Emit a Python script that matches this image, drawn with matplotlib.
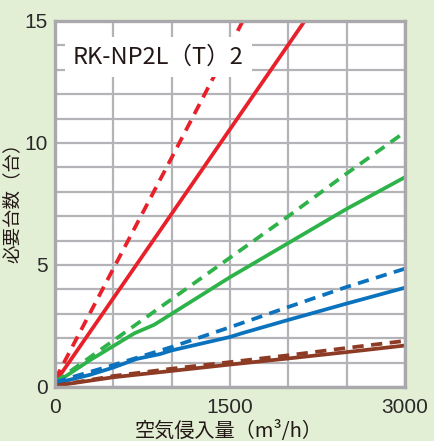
import matplotlib
matplotlib.use('Agg')
import matplotlib.pyplot as plt

# data
x_red = [0, 1000, 2140]
red_solid = [0.18, 7.1, 15.0]
x_red_d = [0, 1000, 1610]
red_dash = [0.3, 9.4, 15.0]

x_green = [0, 300, 680, 850, 1000, 1500, 2000, 2500, 3000]
green_solid = [0.15, 1.1, 2.2, 2.55, 3.0, 4.5, 5.9, 7.3, 8.6]
x_common = [0, 500, 1000, 1500, 2000, 2500, 3000]
green_dash = [0.2, 1.9, 3.6, 5.3, 7.0, 8.75, 10.45]

x_blue = [0, 300, 500, 700, 900, 1000, 1500, 1600, 2000, 2500, 3000]
blue_solid = [0.15, 0.5, 0.8, 1.15, 1.35, 1.5, 2.05, 2.2, 2.75, 3.42, 4.07]
blue_dash = [0.2, 0.9, 1.64, 2.45, 3.28, 4.1, 4.85]

brown_solid = [0.05, 0.4, 0.66, 0.92, 1.17, 1.43, 1.7]
brown_dash = [0.05, 0.45, 0.75, 1.02, 1.3, 1.6, 1.89]

x_ticks = [0, 500, 1000, 1500, 2000, 2500, 3000]
x_ticklabels = ['0', '', '', '1500', '', '', '3000']
y_ticks = list(range(16))
y_ticklabels = [str(v) if v % 5 == 0 else '' for v in y_ticks]

model_name = 'RK-NP2L（T）2'
x_label = '空気侵入量（m³/h）'
y_label = '必要台数（台）'

bg = '#e3efd5'
RED, GREEN, BLUE, BROWN = '#e8202a', '#2db34a', '#0b72bd', '#8e3b26'
cjk = ['Noto Sans CJK JP', 'DejaVu Sans']

fig = plt.figure(figsize=(4.35, 4.41), dpi=100, facecolor=bg)
ax = fig.add_axes([55 / 435, 1 - 387 / 441, 350 / 435, 366 / 441])
ax.set_facecolor('white')

lw = 2.7
ax.plot(x_red, red_solid, color=RED, lw=lw)
ax.plot(x_red_d, red_dash, color=RED, lw=lw, dashes=(3, 2))
ax.plot(x_green, green_solid, color=GREEN, lw=lw)
ax.plot(x_common, green_dash, color=GREEN, lw=lw, dashes=(3, 2))
ax.plot(x_blue, blue_solid, color=BLUE, lw=lw)
ax.plot(x_common, blue_dash, color=BLUE, lw=lw, dashes=(3, 2))
ax.plot(x_common, brown_dash, color=BROWN, lw=lw, dashes=(3, 2))
ax.plot(x_common, brown_solid, color=BROWN, lw=lw)

ax.set_xlim(0, 3000)
ax.set_ylim(0, 15)
ax.set_xticks(x_ticks)
ax.set_xticklabels(x_ticklabels)
ax.set_yticks(y_ticks)
ax.set_yticklabels(y_ticklabels)
ax.tick_params(length=0, labelsize=15, labelcolor='#2a2a2a')
ax.tick_params(axis='x', pad=8)
ax.tick_params(axis='y', pad=5)
for lab in ax.get_xticklabels() + ax.get_yticklabels():
    lab.set_fontfamily('Liberation Sans')

ax.grid(True, color='#b4b4b8', lw=1.6)
ax.set_axisbelow(True)
for s in ax.spines.values():
    s.set_color('#a9a9ad')
    s.set_linewidth(2.4)

ax.text(0.295, 0.902, model_name, transform=ax.transAxes, ha='center', va='center',
        fontsize=17, family=cjk, color='#231815',
        bbox=dict(facecolor='white', edgecolor='none', pad=6))

fig.text(229 / 435, 1 - 431 / 441, x_label, ha='center', va='center',
         fontsize=14.5, family=cjk, color='#231815')
fig.text(12.5 / 435, 1 - 198 / 441, y_label, ha='center', va='center', rotation=90,
         fontsize=13.3, family=cjk, color='#231815')
# clipped label of the neighbouring chart at the left edge
fig.text(-0.016, 1 - 405 / 441, '0', ha='center', va='center', fontsize=15,
         family='Liberation Sans', color='#2a2a2a')

fig.savefig('out.png', dpi=100, facecolor=bg)
